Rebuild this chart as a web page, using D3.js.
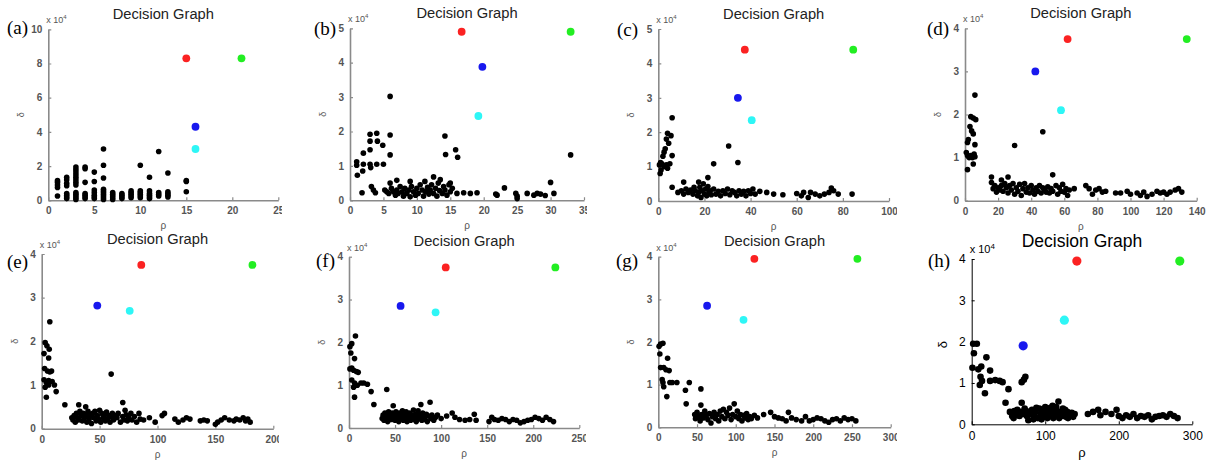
<!DOCTYPE html>
<html>
<head>
<meta charset="utf-8">
<script src="https://cdn.jsdelivr.net/npm/d3@7"></script>
<style>
  body { margin: 0; background: #fff; }
  svg { display: block; }
</style>
</head>
<body>
<div id="chart"></div>
<script>
// rho / delta (x 10^4) pairs
var pointsA = [[1,1.15],[1,1.05],[1,0.9],[1,0.75],[1,0.25],
  [2,1.35],[2,1.2],[2,1.0],[2,0.85],[2,0.4],[2,0.3],[2,0.2],[2,0.1],
  [3,1.95],[3,1.8],[3,1.65],[3,1.5],[3,1.35],[3,1.2],[3,1.05],[3,0.9],[3,0.45],[3,0.35],[3,0.25],[3,0.15],[3,0.05],
  [4,1.95],[4,1.85],[4,1.05],[4,0.4],[4,0.3],[4,0.2],[4,0.1],
  [5,1.65],[5,1.1],[5,0.6],[5,0.45],[5,0.3],[5,0.2],[5,0.1],
  [6,3.0],[6,2.05],[6,1.3],[6,0.65],[6,0.55],[6,0.45],[6,0.35],[6,0.25],[6,0.15],[6,0.05],
  [7,0.45],[7,0.35],[7,0.25],[7,0.15],[7,0.05],
  [8,0.4],[8,0.3],[8,0.2],[8,0.1],
  [9,0.55],[9,0.45],[9,0.35],[9,0.25],[9,0.15],
  [10,2.05],[10,0.55],[10,0.45],[10,0.35],[10,0.25],[10,0.15],
  [11,1.35],[11,0.55],[11,0.4],[11,0.3],[11,0.2],[11,0.1],
  [12,2.85],[12,0.45],[12,0.35],[12,0.25],
  [13,1.6],[13,0.5],[13,0.4],[13,0.3],[13,0.2],
  [15,1.15],[15,1.1],[15,0.5]];
var centersA = [[15,8.3],[21,8.3],[16,4.3],[16,3.0]];

var pointsB = [[1,1.12],[1,1.02],[1.1,0.73],[2,1.37],[2,1.05],[1.9,0.85],[1.8,0.22],[3,1.92],[3,1.72],[3,1.47],
  [3,1.05],[3.1,0.95],[3.2,0.4],[3.5,0.3],[3.8,0.22],[4,1.95],[4.1,1.72],[4,1.05],[4.9,1.6],[5,1.05],
  [6,3.02],[6,1.9],[6,1.32],
  [5.2,0.3],[5.5,0.25],[5.8,0.2],[6,0.5],[6.2,0.35],[6.5,0.25],[6.8,0.15],[7,0.58],[7,0.3],[7.2,0.2],[7.5,0.4],
  [7.8,0.25],[8,0.12],[8.2,0.35],[8.5,0.2],[8.8,0.3],[9,0.55],[9,0.1],[9.2,0.4],[9.5,0.25],[9.8,0.15],[10,0.35],
  [10.2,0.2],[10.5,0.45],[10.8,0.3],[11,0.12],[11.2,0.55],[11.3,0.25],[11.6,0.38],[11.8,0.18],[12,0.3],[12.2,0.45],
  [12.5,0.68],[12.5,0.2],[12.8,0.35],[13,0.12],[13.2,0.5],[13.4,0.28],[13.5,0.6],[13.8,0.2],[14,0.4],[14.2,0.3],
  [14.5,0.15],[14.8,0.45],[15,0.5],[15,0.25],[15.3,0.35],
  [14.2,1.87],[14.3,1.33],[15.8,1.47],[16.1,1.25],
  [16,0.2],[17,0.22],[18,0.2],[19,0.22],[21.8,0.18],[22,0.15],[23.1,0.36],[24.8,0.2],[25,0.12],[25,0.05],
  [26.5,0.2],[27.5,0.15],[28,0.2],[28.5,0.18],[29.2,0.14],[30,0.52],[30.5,0.2],[33,1.32]];
var centersB = [[16.7,4.9],[33,4.9],[19.8,3.88],[19.2,2.45]];

var pointsC = [[6,2.42],[4,1.97],[5.5,1.9],[3.5,1.8],[4.5,1.68],[3,1.52],[2.5,1.42],[6,1.32],[2,1.3],[1,1.12],
  [0.5,1.05],[1.5,1.08],[2.5,1.0],[3.5,1.05],[5,1.08],[4,0.95],[0.8,0.8],[1.2,0.9],[6,0.4],
  [30.5,1.6],[24,1.08],[34.5,1.12],[21.5,0.68],[11,0.55],[17.5,0.55],
  [8.5,0.25],[10,0.3],[11,0.2],[12,0.35],[13,0.25],[14,0.32],[15,0.2],[15.5,0.4],[16,0.3],[17,0.15],[17.5,0.25],
  [18,0.4],[18.5,0.1],[19,0.3],[19.5,0.5],[20,0.2],[20.5,0.35],[21,0.15],[21.5,0.42],[22,0.25],[22.5,0.3],[23,0.18],
  [24,0.35],[25,0.2],[26,0.28],[27,0.15],[28,0.3],[29,0.22],[30,0.35],[31,0.18],[32,0.3],[33,0.25],[34,0.15],
  [35,0.3],[36,0.2],[37,0.28],[38,0.15],[39,0.3],[40,0.22],[41,0.35],[42,0.2],[44,0.28],
  [47,0.25],[50,0.2],[54,0.18],[60,0.22],[62,0.15],[63,0.25],[65,0.1],[66,0.25],[68,0.2],[70,0.15],[72,0.2],
  [74,0.25],[75,0.38],[76,0.3],[78,0.2],[84,0.2]];
var centersC = [[37.5,4.4],[84.5,4.4],[34.5,3.0],[40.5,2.35]];

var pointsD = [[6,2.45],[3.5,1.95],[5,1.92],[6.5,1.88],[3,1.72],[4,1.62],[5,1.55],[2,1.42],[6,1.3],[1.5,1.35],
  [0.8,1.12],[1.5,1.05],[2.5,1.0],[3.5,1.05],[4.5,1.0],[5.5,1.08],[6,1.02],[5,0.85],[1.5,0.72],
  [30,1.28],[47,1.6],[53,0.6],[26,0.55],[16,0.55],[22,0.48],
  [16,0.42],[17,0.28],[18,0.35],[19,0.2],[20,0.3],[21,0.25],[22,0.35],[23,0.22],[24,0.4],[25,0.3],[26,0.18],
  [27,0.35],[28,0.25],[29,0.4],[30,0.15],[31,0.3],[32,0.22],[33,0.38],[34,0.12],[35,0.28],[36,0.4],[37,0.2],
  [38,0.3],[39,0.18],[40,0.35],[41,0.25],[42,0.15],[43,0.3],[44,0.22],[45,0.35],[46,0.18],[47,0.3],[48,0.25],
  [49,0.2],[50,0.32],[51,0.18],[52,0.28],[53,0.22],[55,0.35],[56,0.15],[57,0.3],[58,0.22],[59,0.38],[60,0.2],
  [61,0.28],[62,0.12],[63,0.25],[66,0.28],
  [73,0.35],[75,0.28],[77,0.15],[79,0.25],[81,0.28],[83,0.2],[85,0.22],[91,0.18],[94,0.18],[98,0.22],[100,0.15],
  [104,0.18],[106,0.12],[108,0.2],[110,0.1],[113,0.15],[116,0.22],[118,0.18],[120,0.2],[122,0.15],[124,0.2],
  [127,0.25],[129,0.28],[131,0.2]];
var centersD = [[62,3.75],[134,3.75],[42.5,3.0],[58,2.1]];

var pointsE = [[7,2.45],[3,1.97],[4.5,1.9],[6.5,1.82],[2,1.72],[6,1.62],[2.5,1.38],[5,1.32],[7,1.3],[8.5,1.32],
  [2,1.12],[4,1.05],[6,1.0],[9,1.08],[11,1.0],[3,0.95],[12.5,0.85],[4,0.72],[6,1.1],
  [60,1.25],[20,0.55],[32,0.55],[38,0.5],[70,0.6],[72,0.42],[106,0.35],
  [26,0.25],[27,0.2],[28,0.3],[29,0.15],[30,0.35],[31,0.25],[32,0.2],[33,0.4],[34,0.3],[35,0.18],[36,0.35],
  [37,0.25],[38,0.3],[39,0.15],[40,0.4],[41,0.22],[42,0.3],[43,0.12],[44,0.35],[45,0.25],[46,0.4],[47,0.18],
  [48,0.3],[49,0.22],[50,0.42],[51,0.15],[52,0.35],[53,0.25],[54,0.3],[55,0.18],[56,0.38],[57,0.22],[58,0.3],
  [59,0.15],[60,0.28],[61,0.35],[62,0.2],[63,0.3],[65,0.25],[66,0.35],[68,0.15],[70,0.28],[71,0.2],[73,0.32],
  [74,0.18],[75,0.25],[77,0.35],[78,0.2],[80,0.28],[82,0.15],[84,0.35],[85,0.22],[88,0.2],
  [93,0.25],[98,0.15],[104,0.3],[115,0.22],[118,0.15],[122,0.2],[125,0.25],[128,0.22],[137,0.18],[140,0.2],
  [143,0.18],[150,0.1],[152,0.15],[155,0.2],[158,0.25],[162,0.2],[166,0.18],[168,0.22],[171,0.2],[174,0.25],
  [176,0.18],[178,0.22],[180,0.15]];
var centersE = [[86,3.75],[182,3.75],[48,2.82],[76,2.7]];

var pointsF = [[7,2.15],[3,1.97],[1,1.9],[2,1.75],[6,1.62],[3,1.4],[1,1.38],[5,1.35],[8,1.32],[10,1.3],[3,1.12],
  [6,1.05],[9,1.0],[13,1.05],[16,1.05],[20,1.02],[5,0.95],[6,0.72],[24,0.85],[27,0.55],[41,0.9],
  [36,0.22],[37,0.3],[38,0.18],[39,0.35],[40,0.25],[41,0.3],[42,0.15],[43,0.38],[44,0.25],[45,0.32],[46,0.2],
  [47,0.35],[48,0.52],[49,0.28],[50,0.18],[51,0.38],[52,0.25],[53,0.32],[54,0.15],[55,0.35],[56,0.22],[57,0.3],
  [58,0.4],[59,0.18],[60,0.3],[61,0.25],[62,0.38],[63,0.15],[64,0.3],[65,0.22],[66,0.35],[67,0.18],[68,0.3],
  [69,0.25],[70,0.42],[71,0.2],[72,0.32],[73,0.15],[74,0.28],[75,0.4],[76,0.22],[77,0.3],[78,0.55],[79,0.18],
  [80,0.35],[81,0.25],[82,0.2],[84,0.32],[85,0.15],[86,0.28],[88,0.6],[89,0.22],[90,0.3],[92,0.18],[94,0.25],
  [96,0.3],[100,0.22],[106,0.28],[112,0.35],[115,0.25],[120,0.2],[126,0.18],[131,0.2],[136,0.32],[138,0.18],
  [152,0.15],[155,0.25],[158,0.2],[162,0.18],[166,0.22],[170,0.2],[174,0.15],[178,0.2],[182,0.18],[186,0.12],
  [190,0.15],[194,0.18],[198,0.2],[202,0.25],[206,0.22],[210,0.18],[214,0.25],[218,0.2],[222,0.15]];
var centersF = [[105,3.75],[224,3.75],[56,2.85],[94,2.7]];

var pointsG = [[3,1.95],[6,1.97],[1,1.9],[2,1.72],[12,1.62],[3,1.4],[7,1.4],[10,1.35],[14,1.33],[5,1.12],[6,1.05],
  [7,0.95],[15,1.05],[18,1.05],[24,1.05],[11,0.72],[35,0.87],[40,1.05],[36,0.55],[55,0.9],[55,0.52],
  [47,0.3],[48,0.2],[50,0.35],[52,0.25],[54,0.15],[56,0.3],[58,0.22],[60,0.38],[62,0.28],[64,0.18],[66,0.32],
  [68,0.1],[70,0.25],[72,0.35],[74,0.2],[76,0.3],[78,0.15],[80,0.38],[82,0.25],[84,0.42],[86,0.2],[88,0.35],
  [90,0.28],[92,0.45],[94,0.18],[96,0.3],[98,0.55],[100,0.25],[102,0.38],[104,0.2],[106,0.3],[108,0.15],[110,0.28],
  [112,0.22],[114,0.32],[116,0.18],[118,0.25],[120,0.2],[124,0.28],[128,0.22],
  [136,0.3],[145,0.35],[150,0.25],[155,0.22],[160,0.2],[165,0.15],[168,0.35],[172,0.22],[178,0.18],[185,0.15],
  [190,0.25],[195,0.15],[200,0.18],[205,0.22],[210,0.2],[215,0.15],[220,0.12],[225,0.18],[230,0.2],[235,0.15],
  [240,0.22],[245,0.18],[250,0.2],[255,0.15]];
var centersG = [[124,3.95],[257,3.95],[63,2.85],[110,2.52]];

var pointsH = [[2,1.95],[7,1.95],[3,1.72],[1,1.37],[9,1.33],[13,1.4],[20,1.62],[25,1.3],[12,1.15],[14,1.05],
  [11,0.95],[18,0.75],[25,1.05],[32,1.07],[38,1.05],[42,1.02],[50,0.85],[46,0.52],[68,1.02],[71,1.08],[73,1.15],
  [68,0.52],
  [52,0.3],[55,0.2],[58,0.32],[60,0.25],[62,0.35],[65,0.2],[67,0.3],[70,0.25],[72,0.38],[75,0.2],[77,0.1],[78,0.3],
  [80,0.25],[82,0.35],[85,0.2],[87,0.3],[90,0.15],[92,0.38],[94,0.25],[96,0.3],[98,0.18],[100,0.42],[102,0.25],
  [104,0.35],[106,0.2],[108,0.3],[110,0.45],[112,0.22],[114,0.35],[116,0.25],[118,0.55],[120,0.3],[122,0.2],
  [124,0.38],[126,0.25],[128,0.18],[130,0.3],[133,0.22],[136,0.28],[140,0.25],
  [57,0.15],[63,0.22],[74,0.32],[84,0.12],[88,0.4],[95,0.12],[99,0.32],[103,0.15],[107,0.4],[111,0.15],[115,0.42],
  [119,0.15],[123,0.3],[127,0.35],[131,0.15],[138,0.18],
  [158,0.25],[165,0.3],[172,0.35],[175,0.22],[182,0.3],[190,0.25],[197,0.35],[200,0.2],[205,0.15],[210,0.22],
  [215,0.18],[220,0.25],[225,0.15],[230,0.2],[235,0.18],[240,0.22],[245,0.12],[250,0.18],[255,0.2],[260,0.22],
  [265,0.18],[270,0.25],[275,0.2],[280,0.15]];
var centersH = [[143,3.95],[283,3.95],[70,1.9],[126,2.52]];

// axis limits and tick step per panel
var panelLabels = ["(a)", "(b)", "(c)", "(d)", "(e)", "(f)", "(g)", "(h)"];
var xMaxes = [25, 35, 100, 140, 200, 250, 300, 300];
var xSteps = [5, 5, 20, 20, 50, 50, 50, 100];
var yMaxes = [10, 5, 5, 4, 4, 4, 4, 4];
var ySteps = [2, 1, 1, 1, 1, 1, 1, 1];
var centerColors = ["#fb2222", "#22ee22", "#1818ee", "#2ef6f6"];

var allPoints = [pointsA, pointsB, pointsC, pointsD, pointsE, pointsF, pointsG, pointsH];
var allCenters = [centersA, centersB, centersC, centersD, centersE, centersF, centersG, centersH];

// pixel boxes of each sub-figure (axes edges, right crop edge, panel letter spot)
var boxes = [
  { l: 48.3, r: 278.3, t: 29.3, b: 200.3, clip: 282, lx: 7, ly: 34 },
  { l: 350, r: 584, t: 28.3, b: 200.3, clip: 587, lx: 314, ly: 35 },
  { l: 658.3, r: 889, t: 29, b: 201, clip: 897, lx: 617, ly: 36 },
  { l: 965, r: 1196.7, t: 28.3, b: 200.7, clip: 1206, lx: 927, ly: 35 },
  { l: 41.7, r: 273.3, t: 254, b: 428.7, clip: 279, lx: 7, ly: 268 },
  { l: 349, r: 579.3, t: 256.7, b: 428, clip: 586, lx: 316, ly: 267 },
  { l: 658.3, r: 890.7, t: 256.7, b: 427.3, clip: 897, lx: 616, ly: 267 },
  { l: 971.7, r: 1192.3, t: 259, b: 424.3, clip: 1213, lx: 928, ly: 267 }
];

var svg = d3.select("#chart").append("svg")
  .attr("width", 1213)
  .attr("height", 462);

var defs = svg.append("defs");
var fmt = d3.format("~g");

boxes.forEach(function (bx, i) {
  var last = i === 7; // (h) is a cleaner plot: black axes, bigger text
  var axisColor = last ? "#000" : "#8a8a8a";
  var textColor = last ? "#000" : "#555";
  var tickFont = last ? 12 : 10;
  var mid = (bx.l + bx.r) / 2;

  defs.append("clipPath").attr("id", "clip" + i)
    .append("rect")
    .attr("x", bx.l - 40).attr("y", bx.t - 10)
    .attr("width", bx.clip - bx.l + 40).attr("height", bx.b - bx.t + 40);

  var g = svg.append("g").attr("clip-path", "url(#clip" + i + ")");

  var x = d3.scaleLinear().domain([0, xMaxes[i]]).range([bx.l, bx.r]);
  var y = d3.scaleLinear().domain([0, yMaxes[i]]).range([bx.b, bx.t]);

  var xt = d3.range(0, xMaxes[i] + 0.001, xSteps[i]);
  var yt = d3.range(0, yMaxes[i] + 0.001, ySteps[i]);

  var xAxis = g.append("g")
    .attr("transform", "translate(0," + bx.b + ")")
    .call(d3.axisBottom(x).tickValues(xt).tickFormat(fmt).tickSizeInner(-3).tickSizeOuter(0).tickPadding(7));
  var yAxis = g.append("g")
    .attr("transform", "translate(" + bx.l + ",0)")
    .call(d3.axisLeft(y).tickValues(yt).tickFormat(fmt).tickSizeInner(-3).tickSizeOuter(0).tickPadding(6));

  [xAxis, yAxis].forEach(function (a) {
    a.select(".domain").attr("stroke", axisColor).attr("stroke-width", last ? 1 : 1.6);
    a.selectAll(".tick line").attr("stroke", axisColor).attr("stroke-width", last ? 1 : 1.2);
    a.selectAll(".tick text")
      .attr("fill", textColor)
      .style("font-family", "Liberation Sans, Arial, sans-serif")
      .style("font-size", tickFont + "px")
      .style("font-weight", last ? "normal" : "bold");
  });

  // black points
  g.append("g")
    .selectAll("circle")
    .data(allPoints[i])
    .enter()
    .append("circle")
    .attr("cx", function (d) { return x(d[0]); })
    .attr("cy", function (d) { return y(d[1]); })
    .attr("r", last ? 3.3 : 2.8)
    .style("fill", "#000");

  // cluster centres
  g.append("g")
    .selectAll("circle")
    .data(allCenters[i])
    .enter()
    .append("circle")
    .attr("cx", function (d) { return x(d[0]); })
    .attr("cy", function (d) { return y(d[1]); })
    .attr("r", last ? 4.6 : 3.9)
    .style("fill", function (d, k) { return centerColors[k]; });

  // title
  svg.append("text")
    .attr("x", mid)
    .attr("y", bx.t - (last ? 12 : 10.5))
    .attr("text-anchor", "middle")
    .style("font-family", "Liberation Sans, Arial, sans-serif")
    .style("font-size", last ? "17.5px" : "14.7px")
    .style("fill", last ? "#000" : "#222")
    .text("Decision Graph");

  // exponent marker
  var ex = svg.append("text")
    .attr("x", bx.l - 2)
    .attr("y", bx.t - 6)
    .style("font-family", "Liberation Sans, Arial, sans-serif")
    .style("font-size", last ? "11px" : "9px")
    .style("fill", textColor);
  ex.append("tspan").text("x 10");
  ex.append("tspan").attr("dy", -4).style("font-size", last ? "8px" : "6px").text("4");

  // axis names
  svg.append("text")
    .attr("transform", "translate(" + (bx.l - (last ? 25 : 24)) + "," + ((bx.t + bx.b) / 2 + (last ? 3 : 0)) + ") rotate(-90)")
    .attr("text-anchor", "middle")
    .style("font-family", "Liberation Sans, Arial, sans-serif")
    .style("font-size", last ? "13px" : "9px")
    .style("fill", textColor)
    .text("δ");
  svg.append("text")
    .attr("x", mid)
    .attr("y", bx.b + (last ? 33 : 29))
    .attr("text-anchor", "middle")
    .style("font-family", "Liberation Sans, Arial, sans-serif")
    .style("font-size", last ? "13px" : "10px")
    .style("fill", textColor)
    .text("ρ");

  // panel letter
  svg.append("text")
    .attr("x", bx.lx)
    .attr("y", bx.ly)
    .style("font-family", "Liberation Serif, Times New Roman, serif")
    .style("font-size", "19px")
    .style("fill", "#000")
    .text(panelLabels[i]);
});
</script>
</body>
</html>
